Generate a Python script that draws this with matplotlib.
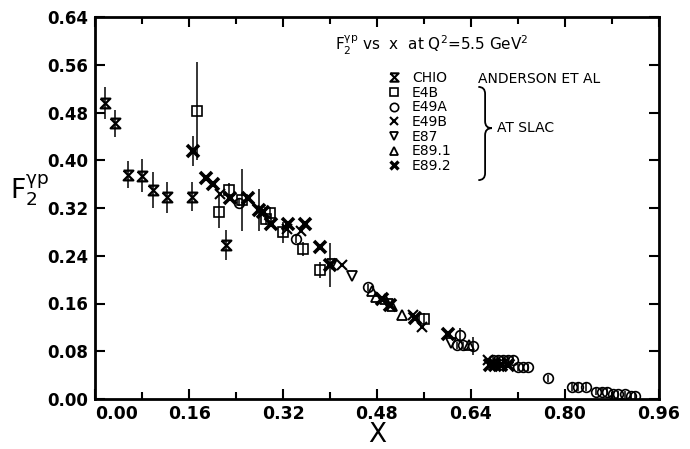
import matplotlib
matplotlib.use("Agg")
import matplotlib.pyplot as plt
from matplotlib.lines import Line2D
from matplotlib.path import Path
from matplotlib.patches import PathPatch

# CHIO (Anderson et al)
chio_x = [0.017, 0.033, 0.056, 0.079, 0.0975, 0.122, 0.165, 0.2225]
chio_y = [0.496, 0.462, 0.376, 0.374, 0.350, 0.338, 0.339, 0.258]
chio_e = [0.027, 0.023, 0.023, 0.028, 0.030, 0.026, 0.024, 0.025]

# SLAC experiments
e4b_x = [0.173, 0.211, 0.228, 0.249, 0.291, 0.2975, 0.319, 0.353, 0.383, 0.560]
e4b_y = [0.483, 0.314, 0.350, 0.333, 0.301, 0.311, 0.279, 0.251, 0.216, 0.1335]
e4b_e = [0.082, 0.027, 0.012, 0.052, 0.010, 0.010, 0.018, 0.012, 0.013, 0.010]

e49a_x = [0.245, 0.342, 0.464, 0.616, 0.6215, 0.627, 0.644, 0.678, 0.687, 0.695,
          0.704, 0.712, 0.721, 0.729, 0.737, 0.772, 0.812, 0.823, 0.836, 0.853,
          0.863, 0.872, 0.882, 0.891, 0.903, 0.9125, 0.920]
e49a_y = [0.329, 0.268, 0.187, 0.090, 0.107, 0.090, 0.089, 0.066, 0.066, 0.066,
          0.066, 0.066, 0.053, 0.053, 0.053, 0.035, 0.020, 0.020, 0.020, 0.012,
          0.012, 0.012, 0.008, 0.008, 0.008, 0.005, 0.005]
e49a_e = [0.006, 0.006, 0.006, 0.006, 0.012, 0.006, 0.015, 0.006, 0.006, 0.006,
          0.006, 0.006, 0.006, 0.006, 0.006, 0.006, 0.006, 0.006, 0.006, 0.006,
          0.006, 0.006, 0.006, 0.006, 0.006, 0.005, 0.005]

e49b_x = [0.213, 0.326, 0.350, 0.421, 0.542, 0.556, 0.670]
e49b_y = [0.343, 0.284, 0.282, 0.224, 0.141, 0.121, 0.065]

e87_x = [0.403, 0.437, 0.499, 0.607]
e87_y = [0.226, 0.206, 0.160, 0.093]

e891_x = [0.471, 0.478, 0.494, 0.505, 0.522, 0.637]
e891_y = [0.181, 0.171, 0.168, 0.156, 0.141, 0.090]

e892_x = [0.167, 0.188, 0.201, 0.229, 0.260, 0.278, 0.286, 0.299, 0.329, 0.358,
          0.383, 0.400, 0.488, 0.502, 0.545, 0.601, 0.673, 0.681, 0.692, 0.704]
e892_y = [0.416, 0.371, 0.361, 0.336, 0.337, 0.317, 0.314, 0.294, 0.293, 0.293,
          0.255, 0.224, 0.167, 0.157, 0.135, 0.109, 0.057, 0.057, 0.057, 0.057]
e892_e = [0.025, 0.0, 0.0, 0.0, 0.0, 0.035, 0.0, 0.0, 0.0, 0.0,
          0.0, 0.037, 0.0, 0.0, 0.0, 0.0, 0.0, 0.0, 0.0, 0.0]

x_ticks = [0.00, 0.16, 0.32, 0.48, 0.64, 0.80, 0.96]
y_ticks = [0.00, 0.08, 0.16, 0.24, 0.32, 0.40, 0.48, 0.56, 0.64]

plt.rcParams["mathtext.default"] = "regular"
plt.rcParams["font.family"] = "DejaVu Sans"

# hourglass marker used for CHIO
hourglass = Path([(-1, 1), (1, 1), (-1, -1), (1, -1), (-1, 1)])

fig = plt.figure(figsize=(6.9, 4.49), dpi=100)
ax = fig.add_axes([95.5 / 690, 1 - 399 / 449, 563 / 690, 382 / 449])

eb = dict(color="black", ecolor="black", elinewidth=1.1, capsize=0,
          linestyle="none", mfc="none", mec="black")

ax.errorbar(chio_x, chio_y, yerr=chio_e, marker=hourglass, ms=7, mew=1.6, **eb)
ax.errorbar(e4b_x, e4b_y, yerr=e4b_e, marker="s", ms=7, mew=1.2, **eb)
ax.errorbar(e49a_x, e49a_y, yerr=e49a_e, marker="o", ms=7, mew=1.2, **eb)
ax.plot(e49b_x, e49b_y, "x", color="black", ms=7, mew=1.5)
ax.plot(e87_x, e87_y, "v", mfc="none", mec="black", ms=7, mew=1.3)
ax.plot(e891_x, e891_y, "^", mfc="none", mec="black", ms=7, mew=1.3)
ax.errorbar(e892_x, e892_y, yerr=e892_e, marker="x", ms=8, mew=2.6, **eb)

ax.set_xlim(0, 0.96)
ax.set_ylim(0, 0.64)
ax.set_xticks(x_ticks)
ax.set_xticklabels(["%.2f" % t for t in x_ticks])
ax.set_xticks([0.08, 0.24, 0.40, 0.56, 0.72, 0.88], minor=True)
ax.set_yticks(y_ticks)
ax.set_yticklabels(["%.2f" % t for t in y_ticks])
for s in ax.spines.values():
    s.set_linewidth(2)
ax.tick_params(which="both", direction="in", top=True, right=True, width=1.5)
ax.tick_params(which="major", length=7)
ax.tick_params(which="minor", length=5)
ax.tick_params(axis="x", pad=4, labelsize=12.5)
ax.tick_params(axis="y", pad=5, labelsize=12)
for lab in ax.get_xticklabels() + ax.get_yticklabels():
    lab.set_fontweight("bold")
# the first x label sits to the right of the corner, as in the original
ax.get_xticklabels()[0].set_horizontalalignment("left")

# axis labels
fig.text(377 / 690, 0.5 / 449, "X", fontsize=19, ha="center", va="bottom")
fig.text(10 / 690, 1 - 190 / 449, r"$\mathrm{F}_2^{\gamma p}$", fontsize=19,
         ha="left", va="center")

# title inside the plot
ax.text(0.425, 0.912, r"$\mathrm{F}_2^{\gamma p}$ vs  x  at $Q^2$=5.5 GeV$^2$",
        transform=ax.transAxes, fontsize=11, va="baseline")

# legend
names = ["CHIO", "E4B", "E49A", "E49B", "E87", "E89.1", "E89.2"]
handles = [
    Line2D([], [], ls="none", marker=hourglass, ms=6, mfc="none", mec="black", mew=1.5),
    Line2D([], [], ls="none", marker="s", ms=6, mfc="none", mec="black", mew=1.2),
    Line2D([], [], ls="none", marker="o", ms=6, mfc="none", mec="black", mew=1.2),
    Line2D([], [], ls="none", marker="x", ms=6, color="black", mew=1.5),
    Line2D([], [], ls="none", marker="v", ms=6, mfc="none", mec="black", mew=1.3),
    Line2D([], [], ls="none", marker="^", ms=6, mfc="none", mec="black", mew=1.3),
    Line2D([], [], ls="none", marker="x", ms=6, color="black", mew=2.4),
]
ax.legend(handles, names, loc="upper left",
          bbox_to_anchor=(387 / 690, 1 - 71 / 449), bbox_transform=fig.transFigure,
          frameon=False, fontsize=10, handlelength=1.0, handletextpad=0.8,
          labelspacing=0.05, borderpad=0, borderaxespad=0)

ax.text(0.679, 0.838, "ANDERSON ET AL", transform=ax.transAxes, fontsize=10,
        va="center", ha="left")

# curly brace grouping the SLAC experiments
bx, by0, by1, bym, bw, bd = 0.692, 0.573, 0.817, 0.709, 0.012, 0.018
brace = Path(
    [(bx - bw, by1), (bx, by1), (bx, by1 - bd),
     (bx, bym + bd),
     (bx, bym), (bx + bw, bym),
     (bx, bym), (bx, bym - bd),
     (bx, by0 + bd),
     (bx, by0), (bx - bw, by0)],
    [Path.MOVETO, Path.CURVE3, Path.CURVE3,
     Path.LINETO,
     Path.CURVE3, Path.CURVE3,
     Path.CURVE3, Path.CURVE3,
     Path.LINETO,
     Path.CURVE3, Path.CURVE3])
ax.add_patch(PathPatch(brace, transform=ax.transAxes, fill=False, lw=1.3,
                       clip_on=False))
ax.text(0.713, bym, "AT SLAC", transform=ax.transAxes, fontsize=10,
        va="center", ha="left")

fig.savefig("out.png", dpi=100)
